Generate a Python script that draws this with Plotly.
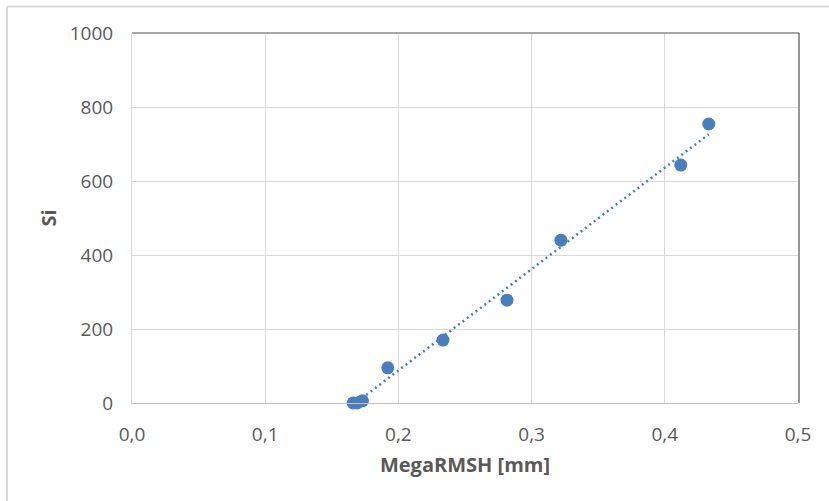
import numpy as np
import plotly.graph_objects as go

# Data
mega_rmsh = [0.166, 0.169, 0.173, 0.192, 0.2335, 0.2815, 0.322, 0.412, 0.433]
si_values = [0, 0, 6, 95, 170, 278, 440, 643, 754]
x_tick_vals = [0.0, 0.1, 0.2, 0.3, 0.4, 0.5]
x_tick_text = ["0,0", "0,1", "0,2", "0,3", "0,4", "0,5"]
y_tick_vals = [0, 200, 400, 600, 800, 1000]

# linear trendline over data range (like Excel)
coef = np.polyfit(mega_rmsh, si_values, 1)
tx = np.array([min(mega_rmsh), max(mega_rmsh)])
ty = np.polyval(coef, tx)

blue = "#4A7EBB"
fnt = "Open Sans, Liberation Sans, sans-serif"

fig = go.Figure()
fig.add_trace(go.Scatter(x=tx, y=ty, mode="lines",
                         line=dict(color=blue, width=2.5, dash="2px,3.5px"),
                         hoverinfo="skip", showlegend=False))
fig.add_trace(go.Scatter(x=mega_rmsh, y=si_values, mode="markers",
                         marker=dict(color=blue, size=13, line=dict(width=0)),
                         cliponaxis=False, showlegend=False))

fig.update_layout(
    width=829, height=501,
    margin=dict(l=132, r=31, t=33, b=98),
    paper_bgcolor="white", plot_bgcolor="white",
    font=dict(family=fnt, color="#595959", size=19),
    xaxis=dict(range=[0, 0.5], tickvals=x_tick_vals, ticktext=x_tick_text,
               showgrid=True, gridcolor="#D9D9D9", gridwidth=1,
               showline=True, linecolor="#BFBFBF", linewidth=1,
               zeroline=False, ticks="", ticklabelstandoff=14,
               title=dict(text="<b>MegaRMSH [mm]</b>", font=dict(size=20, color="#595959"), standoff=12),
               fixedrange=True),
    yaxis=dict(range=[0, 1000], tickvals=y_tick_vals,
               showgrid=True, gridcolor="#D9D9D9", gridwidth=1,
               showline=True, linecolor="#D9D9D9", linewidth=1,
               zeroline=False, ticks="", ticklabelstandoff=14,
               title=dict(text="<b>Si</b>", font=dict(size=20, color="#595959"), standoff=7),
               fixedrange=True),
    shapes=[
        # outer chart border (only top and left visible in the crop)
        dict(type="line", xref="paper", yref="paper", x0=-0.1877, x1=1.05, y0=1.0716, y1=1.0716,
             line=dict(color="#D9D9D9", width=2), layer="below"),
        dict(type="line", xref="paper", yref="paper", x0=-0.1877, x1=-0.1877, y0=-0.3, y1=1.0716,
             line=dict(color="#D9D9D9", width=2), layer="below"),
        # darker top / right edges of the plot area
        dict(type="line", xref="paper", yref="paper", x0=0, x1=1.0015, y0=1, y1=1,
             line=dict(color="#505050", width=1.2)),
        dict(type="line", xref="paper", yref="paper", x0=1.0015, x1=1.0015, y0=0, y1=1,
             line=dict(color="#505050", width=1.2)),
    ],
)

fig.write_html("out.html", config={"displayModeBar": False},
               post_script="document.body.style.margin='0';")
